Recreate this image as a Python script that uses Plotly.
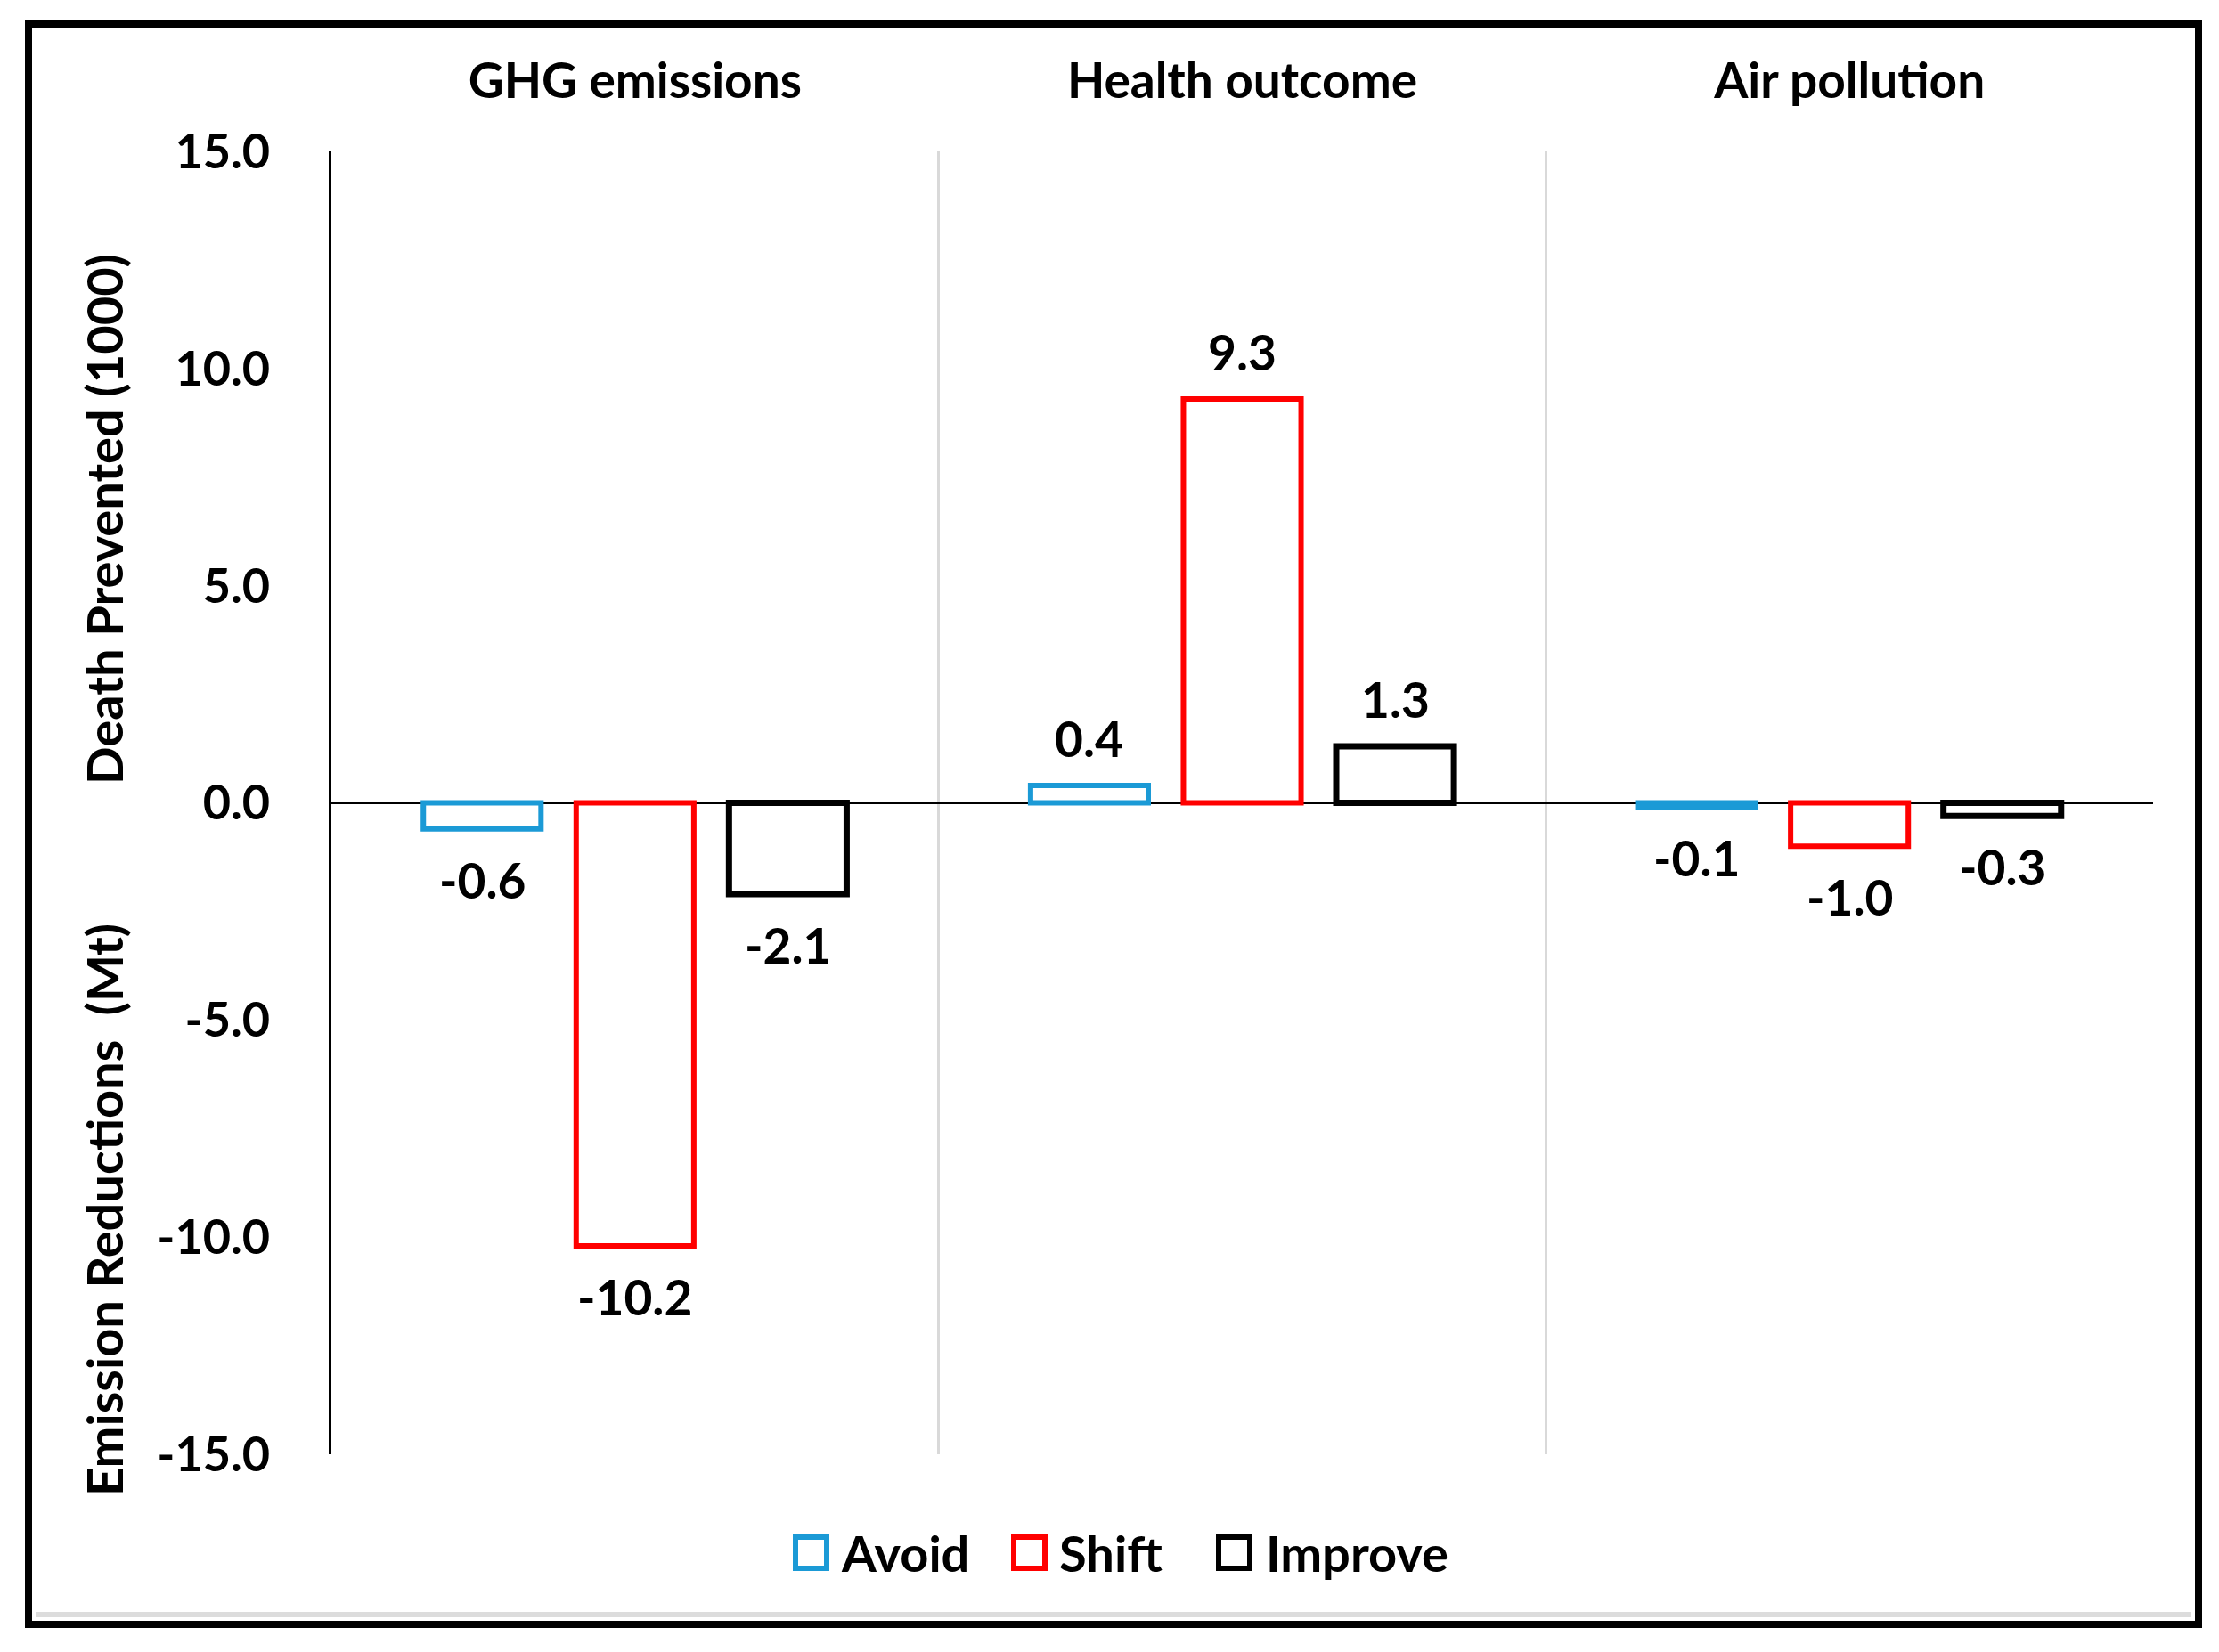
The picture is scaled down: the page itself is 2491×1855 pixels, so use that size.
import plotly.graph_objects as go

categories = ["GHG emissions", "Health outcome", "Air pollution"]
avoid = [-0.6, 0.4, -0.1]
shift = [-10.2, 9.3, -1.0]
improve = [-2.1, 1.3, -0.3]
series_names = ["Avoid", "Shift", "Improve"]
y_tickvals = [-15, -10, -5, 0, 5, 10, 15]
y_ticktext = ["-15.0", "-10.0", "-5.0", "0.0", "5.0", "10.0", "15.0"]

W, H = 2491, 1855
OFF = 8  # page body margin
ML, MR, MT, MB = 364, 82, 162, 230
PW, PH = W - ML - MR, H - MT - MB


def px(xo):
    return (xo - OFF - ML) / PW


def py(yo):
    return (H - MB - (yo - OFF)) / PH


FONT = "Lato"
colors = ["#1b9ad6", "#ff0000", "#000000"]
widths = [6, 6, 7]
BARGAP = 0.245
series = [avoid, shift, improve]

fig = go.Figure()
for name, vals, col, lw in zip(series_names, series, colors, widths):
    fig.add_trace(go.Bar(
        x=categories, y=vals, name=name, showlegend=False,
        marker=dict(color="white", line=dict(color=col, width=lw)),
    ))

# value labels placed just beyond each bar end
slot = (1 - BARGAP) / len(series)
for j, vals in enumerate(series):
    for i, v in enumerate(vals):
        pos = v >= 0
        fig.add_annotation(
            x=i + (j - (len(series) - 1) / 2) * slot, y=v, xref="x", yref="y",
            text=f"{v:.1f}", showarrow=False,
            yanchor="bottom" if pos else "top", yshift=18 if pos else -22,
            font=dict(family=FONT, size=55, color="black", weight="bold"),
        )

fig.update_layout(
    width=W, height=H,
    margin=dict(l=ML, r=MR, t=MT, b=MB),
    paper_bgcolor="white", plot_bgcolor="white",
    font=dict(family=FONT, size=54, color="black", weight="bold"),
    barmode="group", bargap=BARGAP, bargroupgap=0.23,
    showlegend=False,
)
fig.update_xaxes(
    type="category", side="top", range=[-0.5, 2.5],
    tickson="boundaries", showgrid=True, gridcolor="#d9d9d9", gridwidth=3,
    ticks="", ticklabelstandoff=48, showline=False, zeroline=False,
    tickfont=dict(family=FONT, size=55, color="black", weight="bold"),
)
fig.update_yaxes(
    range=[-15, 15], tickvals=y_tickvals, ticktext=y_ticktext,
    showgrid=False, zeroline=True, zerolinecolor="black", zerolinewidth=3,
    showline=True, linecolor="black", linewidth=3, ticks="", ticklabelstandoff=55,
    tickfont=dict(family=FONT, size=54, color="black", weight="bold"),
)

fig.add_annotation(text="Death Prevented (1000)", textangle=-90, xref="paper", yref="paper",
                   x=px(116), y=py(583), showarrow=False, xanchor="center", yanchor="middle",
                   font=dict(family=FONT, size=56, color="black", weight="bold"))
fig.add_annotation(text="Emission Reductions  (Mt)", textangle=-90, xref="paper", yref="paper",
                   x=px(116), y=py(1359), showarrow=False, xanchor="center", yanchor="middle",
                   font=dict(family=FONT, size=56, color="black", weight="bold"))

# legend (large hollow squares, as in the original)
leg_sq_x = [893, 1138, 1368]
leg_txt_x = [942, 1187, 1419]
for name, col, sx, tx in zip(series_names, colors, leg_sq_x, leg_txt_x):
    fig.add_shape(type="rect", xref="paper", yref="paper",
                  x0=px(sx), x1=px(sx + 35), y0=py(1761), y1=py(1726),
                  line=dict(color=col, width=6), fillcolor="white")
    fig.add_annotation(text=name, xref="paper", yref="paper", x=px(tx), y=py(1743),
                       xanchor="left", yanchor="middle", showarrow=False,
                       font=dict(family=FONT, size=56, color="black", weight="bold"))

fig.add_shape(type="rect", xref="paper", yref="paper",
              x0=px(32), x1=px(2468), y0=py(1824), y1=py(27),
              line=dict(color="black", width=8), fillcolor="rgba(0,0,0,0)", layer="above")
fig.add_shape(type="line", xref="paper", yref="paper",
              x0=px(40), x1=px(2460), y0=py(1813), y1=py(1813),
              line=dict(color="#dcdcdc", width=6))

fig.write_html("out.html")
